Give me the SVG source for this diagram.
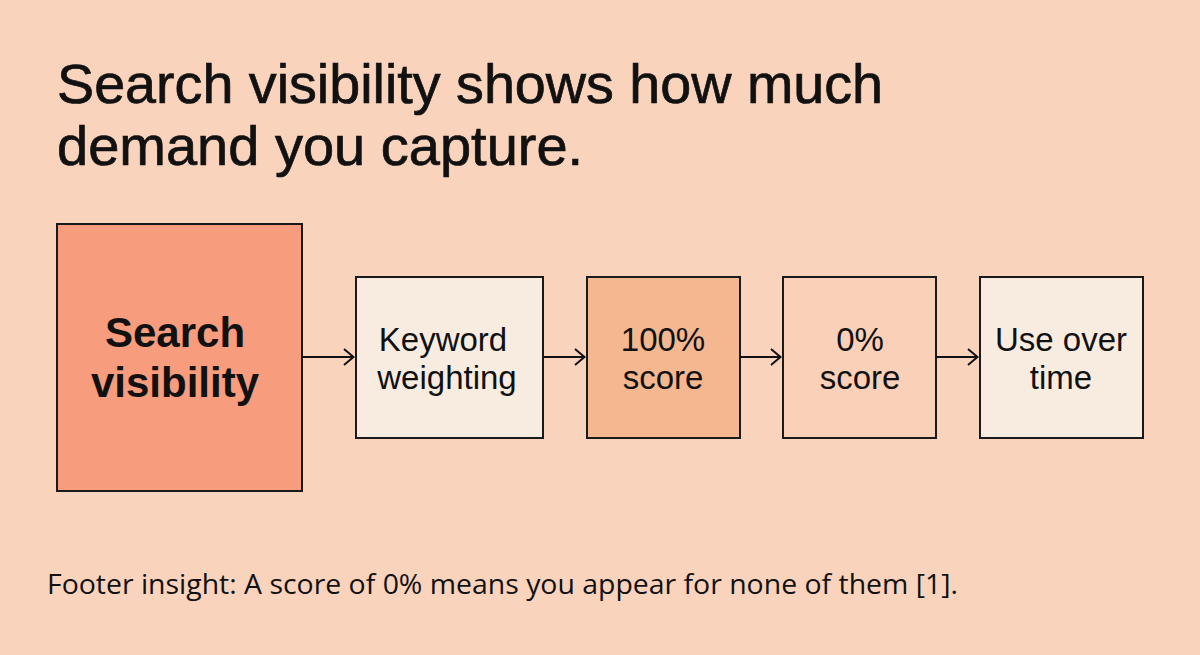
<svg xmlns="http://www.w3.org/2000/svg" width="1200" height="655" viewBox="0 0 1200 655">
<defs>
<marker id="arr" viewBox="0 0 12 18" refX="11" refY="9" markerWidth="12" markerHeight="18" markerUnits="userSpaceOnUse" orient="auto">
<path d="M1,1 L10.5,9 L1,17" fill="none" stroke="#111" stroke-width="2"/>
</marker>
</defs>
<style>
.box{stroke:#1a1a1a;stroke-width:2}
.lbl{font-family:"Liberation Sans",Arial,sans-serif;font-size:33px;fill:#111;text-anchor:middle}
.big{font-family:"Liberation Sans",Arial,sans-serif;font-size:42px;font-weight:bold;fill:#111;text-anchor:middle}
.title{font-family:"Liberation Sans",Arial,sans-serif;font-size:56px;fill:#111;stroke:#111;stroke-width:0.7}
.foot{font-family:"Open Sans","Noto Sans",sans-serif;font-size:27px;fill:#111}
.conn{stroke:#111;stroke-width:2;fill:none}
</style>
<rect width="1200" height="655" fill="#FAD3BC"/>
<g id="title">
<text class="title" x="57" y="103" textLength="826" lengthAdjust="spacingAndGlyphs">Search visibility shows how much</text>
<text class="title" x="57" y="165">demand you capture.</text>
</g>
<g id="node-search">
<rect class="box" x="57" y="224" width="245" height="267" fill="#F79C7C"/>
<text class="big" x="175" y="347">Search</text>
<text class="big" x="175" y="397">visibility</text>
</g>
<g id="node-keyword">
<rect class="box" x="356" y="277" width="187" height="161" fill="#F8ECE1"/>
<text class="lbl" x="443" y="351">Keyword</text>
<text class="lbl" x="447" y="389">weighting</text>
</g>
<g id="node-100">
<rect class="box" x="587" y="277" width="153" height="161" fill="#F4B78F"/>
<text class="lbl" x="663" y="351">100%</text>
<text class="lbl" x="663" y="389">score</text>
</g>
<g id="node-0">
<rect class="box" x="783" y="277" width="153" height="161" fill="#FAD0B8"/>
<text class="lbl" x="860" y="351">0%</text>
<text class="lbl" x="860" y="389">score</text>
</g>
<g id="node-use">
<rect class="box" x="980" y="277" width="163" height="161" fill="#F8ECE1"/>
<text class="lbl" x="1061" y="351">Use over</text>
<text class="lbl" x="1061" y="389">time</text>
</g>
<g id="connectors">
<line class="conn" x1="302" y1="357" x2="354" y2="357" marker-end="url(#arr)"/>
<line class="conn" x1="543" y1="357" x2="585" y2="357" marker-end="url(#arr)"/>
<line class="conn" x1="740" y1="357" x2="781" y2="357" marker-end="url(#arr)"/>
<line class="conn" x1="936" y1="357" x2="978" y2="357" marker-end="url(#arr)"/>
</g>
<g id="footer">
<text class="foot" x="47" y="594" textLength="911" lengthAdjust="spacingAndGlyphs">Footer insight: A score of 0% means you appear for none of them [1].</text>
</g>
</svg>
